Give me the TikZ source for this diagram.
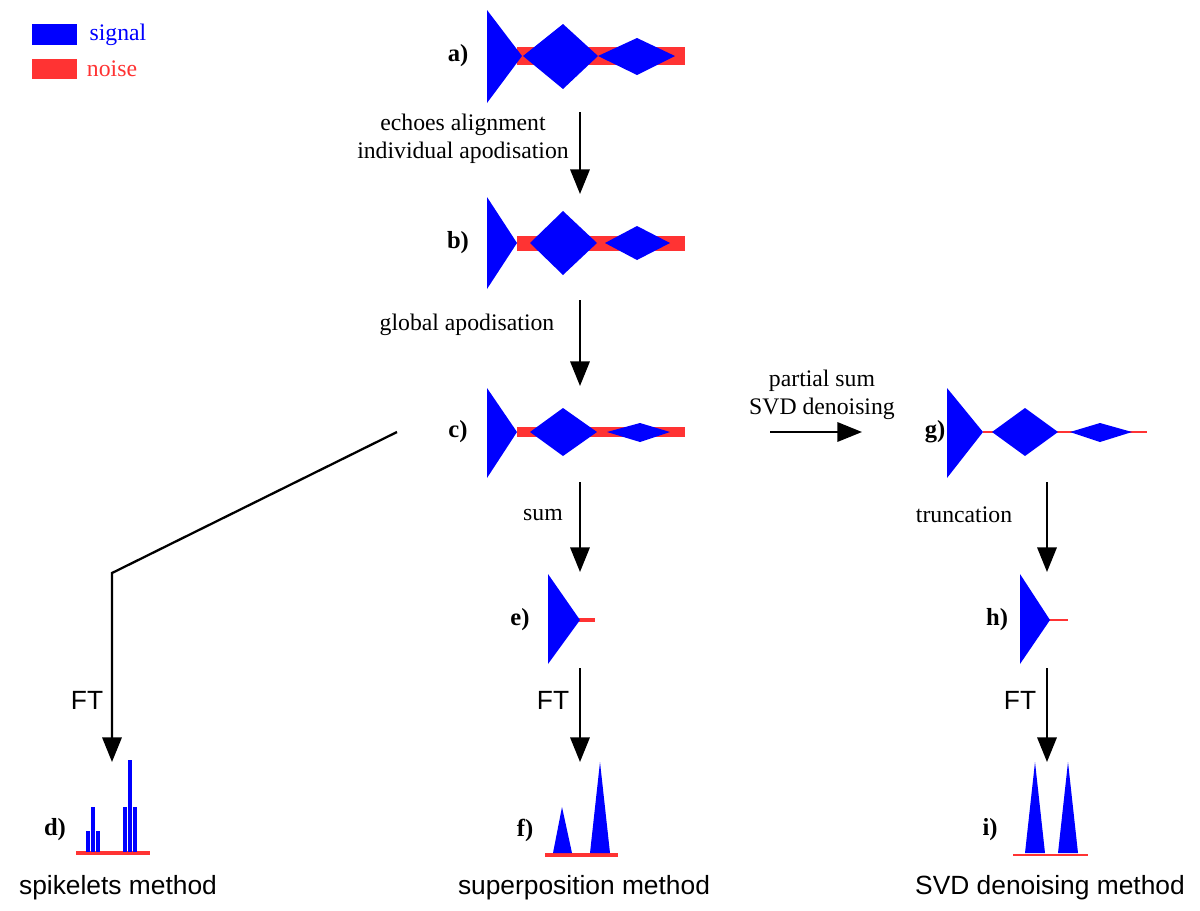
\documentclass[tikz,border=0pt]{standalone}
\usepackage{fontspec}
\setmainfont{Liberation Serif}
\setsansfont{Liberation Sans}
\usetikzlibrary{arrows.meta}
\tikzset{
  sig/.style={fill=blue},
  noi/.style={fill=red!80},
  flow/.style={line width=1.3pt, -{Triangle[width=11pt,length=14pt]}},
  lbl/.style={font=\fontsize{14}{16}\selectfont\bfseries},
  txt/.style={font=\fontsize{13.5}{16}\selectfont, align=center},
  sf/.style={font=\sffamily\fontsize{15}{18}\selectfont}
}
\begin{document}
\begin{tikzpicture}[x=0.02cm,y=-0.02cm]
\useasboundingbox (0,0) rectangle (1200,910);

    % legend
    \fill[sig] (32,24) rectangle (77,45);
    \fill[noi] (32,59) rectangle (77,79);
    \node[txt, text=blue] (lsig) at (118,35) {signal};
    \node[txt, text=red!80] (lnoi) at (112,69) {noise};

    % a)
    \fill[noi] (517,47) rectangle (685,65);
    \fill[sig] (487,10) -- (487,103) -- (522,56) -- cycle;
    \fill[sig] (523,56) -- (563,24) -- (598,56) -- (563,89) -- cycle;
    \fill[sig] (598,56) -- (637,38) -- (675,56) -- (637,75) -- cycle;
    \node[lbl] (la) at (458,56) {a)};

    % b)
    \fill[noi] (517,236) rectangle (685,251);
    \fill[sig] (487,197) -- (487,289) -- (517,243) -- cycle;
    \fill[sig] (530,243) -- (563,211) -- (597,243) -- (563,275) -- cycle;
    \fill[sig] (605,243) -- (637,226) -- (670,243) -- (637,260) -- cycle;
    \node[lbl] (lb) at (458,243) {b)};

    % c)
    \fill[noi] (517,427) rectangle (685,437);
    \fill[sig] (487,388) -- (487,478) -- (517,432) -- cycle;
    \fill[sig] (530,432) -- (563,408) -- (597,432) -- (563,456) -- cycle;
    \fill[sig] (607,432) -- (640,423) -- (670,432) -- (640,442) -- cycle;
    \node[lbl] (lc) at (458,432) {c)};

    % g)
    \draw[red!80, line width=1.2pt] (983,432) -- (1147,432);
    \fill[sig] (947,388) -- (947,478) -- (983,432) -- cycle;
    \fill[sig] (992,432) -- (1025,408) -- (1058,432) -- (1025,456) -- cycle;
    \fill[sig] (1070,432) -- (1100,423) -- (1132,432) -- (1100,442) -- cycle;
    \node[lbl] (lg) at (935,432) {g)};

    % e) and h)
    \draw[red!80, line width=2.5pt] (578,620) -- (595,620);
    \fill[sig] (548,574) -- (548,664) -- (580,620) -- cycle;
    \node[lbl] (le) at (520,620) {e)};
    \draw[red!80, line width=1.2pt] (1048,620) -- (1068,620);
    \fill[sig] (1020,574) -- (1020,664) -- (1050,620) -- cycle;
    \node[lbl] (lh) at (997,620) {h)};

    % d) spikelets
    \draw[red!80, line width=2.5pt] (76,853) -- (150,853);
    \foreach \x/\t in {88/831, 93/807, 98/831, 125/807, 130/760, 135/807}
      \draw[blue, line width=2.2pt] (\x,852) -- (\x,\t);
    \node[lbl] (ld) at (55,830) {d)};

    % f) and i)
    \draw[red!80, line width=2.5pt] (545,855) -- (618,855);
    \fill[sig] (553,853) -- (562,807) -- (572,853) -- cycle;
    \fill[sig] (590,853) -- (600,762) -- (610,853) -- cycle;
    \node[lbl] (lf) at (525,830) {f)};
    \draw[red!80, line width=1.2pt] (1013,855) -- (1088,855);
    \fill[sig] (1025,853) -- (1035,762) -- (1045,853) -- cycle;
    \fill[sig] (1058,853) -- (1068,762) -- (1078,853) -- cycle;
    \node[lbl] (li) at (990,830) {i)};

    % arrow ends
    \coordinate (a1) at (580,112); \coordinate (b0) at (580,194);
    \coordinate (b1) at (580,300); \coordinate (c0) at (580,386);
    \coordinate (c1) at (580,482); \coordinate (e0) at (580,572);
    \coordinate (e1) at (580,668); \coordinate (f0) at (580,762);
    \coordinate (g1) at (1047,482); \coordinate (h0) at (1047,572);
    \coordinate (h1) at (1047,668); \coordinate (i0) at (1047,762);
    \coordinate (cg0) at (770,432); \coordinate (cg1) at (862,432);
    \coordinate (cd0) at (397,432); \coordinate (knee) at (112,573);
    \coordinate (d0) at (112,762);

    % arrows
    \draw[flow] (a1) -- (b0);
    \draw[flow] (b1) -- (c0);
    \draw[flow] (c1) -- (e0);
    \draw[flow] (e1) -- (f0);
    \draw[flow] (g1) -- (h0);
    \draw[flow] (h1) -- (i0);
    \draw[flow] (cg0) -- (cg1);
    \draw[flow] (cd0) -- (knee) -- (d0);

    % arrow texts
    \node[txt] (tab) at (463,139) {echoes alignment\\individual apodisation};
    \node[txt] (tbc) at (467,325) {global apodisation};
    \node[txt] (tce) at (543,515) {sum};
    \node[txt] (tcg) at (822,395) {partial sum\\SVD denoising};
    \node[txt] (tgh) at (964,515) {truncation};
    \node[sf] (ft1) at (87,700) {FT};
    \node[sf] (ft2) at (553,700) {FT};
    \node[sf] (ft3) at (1020,700) {FT};

    % methods
    \node[sf] (m1) at (118,888) {spikelets method};
    \node[sf] (m2) at (584,888) {superposition method};
    \node[sf] (m3) at (1050,888) {SVD denoising method};

\end{tikzpicture}
\end{document}
